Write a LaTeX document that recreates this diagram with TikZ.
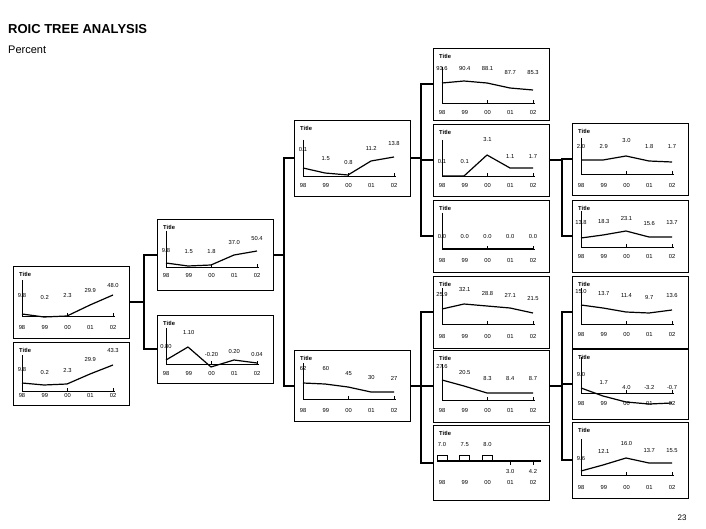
\documentclass[tikz,border=0pt]{standalone}
\usepackage{fontspec}
\setmainfont{Liberation Sans}
\begin{document}
\begin{tikzpicture}[x=1pt,y=-1pt,
  box/.style={draw,line width=0.8pt,minimum width=116pt,anchor=north west,inner sep=0pt},
  tt/.style={font=\fontsize{5.8}{6}\selectfont\bfseries,anchor=west,inner sep=0pt},
  lab/.style={font=\fontsize{5.8}{6}\selectfont,inner sep=0pt},
  axis/.style={line width=0.6pt},
  dline/.style={line width=1.2pt,line join=round},
  conn/.style={line width=2pt}]
\useasboundingbox (0,0) rectangle (706,529);
\newcommand\chart[8]{%
  \node[box,minimum height=#4pt] (#1) at (#2,#3) {};
  \begin{scope}[shift={(#2,#3)}]
    \node[tt] at (6,8) {Title};
    \draw[axis] (9,#7) -- (102,#7);
    \draw[axis] (9,#7-36) -- (9,#7);
    \draw[axis] (54,#7) -- (54,#7-3) (100,#7) -- (100,#7-3);
    \foreach \l/\yy [count=\i] in {#5} \node[lab] at ({9+22.75*(\i-1)},\yy) {\l};
    \foreach \l [count=\i] in {98,99,00,01,02} \node[lab] at ({9+22.75*(\i-1)},#8) {\l};
    \draw[dline] plot coordinates {#6};
  \end{scope}}
\node[anchor=west,inner sep=0pt,font=\fontsize{13}{14}\selectfont\bfseries] (ttl) at (8,29) {ROIC TREE ANALYSIS};
\node[anchor=west,inner sep=0pt,font=\fontsize{11}{12}\selectfont] (pct) at (8,50) {Percent};
\node[inner sep=0pt,font=\fontsize{8}{9}\selectfont] (pg) at (682,518) {23};
% level 1
\chart{L1}{13}{266}{72}{9.8/30,0.2/32,2.3/30,29.9/25,48.0/20}{(9,48) (31,51) (54,50) (77,39) (100,29)}{50}{62}
\chart{L2}{13}{342}{63}{9.8/28,0.2/31,2.3/29,29.9/18,43.3/9}{(9,41) (31,43) (54,42) (77,32) (100,23)}{49}{54}
% level 2
\chart{M1}{157}{219}{71}{9.8/32,1.5/33,1.8/33,37.0/24,50.4/20}{(9,44) (31,47) (54,46) (77,36) (100,32)}{48}{57}
\chart{M2}{157}{315}{68}{0.80/32,1.10/18,-0.20/40,0.20/37,0.04/40}{(9,45) (31,32) (54,52) (77,45) (100,48)}{49}{59}
% level 3
\chart{N1}{294}{120}{76}{0.1/30,1.5/39,0.8/43,11.2/28,13.8/24}{(9,48) (31,53) (54,55) (77,41) (100,37)}{56}{66}
\chart{N2}{294}{350}{71}{62/19,60/19,45/24,30/28,27/28}{(9,33) (31,34) (54,37) (77,42) (100,42)}{49}{61}
% level 4
\chart{T1}{433}{48}{72}{93.6/21,90.4/21,88.1/21,87.7/25,85.3/25}{(9,35) (31,33) (54,35) (77,40) (100,42)}{55}{65}
\chart{T2}{433}{124}{72}{0.1/38,0.1/38,3.1/16,1.1/33,1.7/33}{(9,52) (31,52) (54,31) (77,44) (100,44)}{52}{62}
\chart{T3}{433}{200}{72}{0.0/37,0.0/37,0.0/37,0.0/37,0.0/37}{(9,49) (100,49)}{49}{61}
\chart{T4}{433}{276}{72}{25.9/19,32.1/14,28.8/18,27.1/19,21.5/23}{(9,33) (31,28) (54,30) (77,32) (100,37)}{48}{61}
\chart{T5}{433}{350}{72}{27.6/17,20.5/23,8.3/29,8.4/29,8.7/29}{(9,30) (31,36) (54,43) (77,43) (100,43)}{50}{61}
\node[box,minimum height=75pt] (T6) at (433,425) {};
\begin{scope}[shift={(433,425)}]
  \node[tt] at (6,8) {Title};
  \foreach \l/\yy [count=\i] in {7.0/20,7.5/20,8.0/20,3.0/46,4.2/46} \node[lab] at ({9+22.75*(\i-1)},\yy) {\l};
  \foreach \l [count=\i] in {98,99,00,01,02} \node[lab] at ({9+22.75*(\i-1)},57) {\l};
  \draw[dline] (5,36) -- (108,36);
  \foreach \i in {0,1,2} \draw[axis] ({4+22.75*\i},36) rectangle ++(10,-6);
  \draw[axis] (77,36) -- (77,40) (100,36) -- (100,40);
\end{scope}
% level 5
\chart{R1}{572}{123}{72}{2.0/24,2.9/24,3.0/18,1.8/24,1.7/24}{(9,37) (31,37) (54,33) (77,38) (100,39)}{51}{63}
\chart{R2}{572}{200}{72}{13.8/23,18.3/22,23.1/19,15.6/24,13.7/23}{(9,38) (31,35) (54,31) (77,37) (100,37)}{47}{57}
\chart{R3}{572}{276}{72}{15.0/16,13.7/18,11.4/20,9.7/22,13.6/20}{(9,29) (31,32) (54,36) (77,37) (100,34)}{48}{59}
\chart{R4}{572}{349}{70}{9.0/26,1.7/34,4.0/39,-3.2/39,-0.7/39}{(9,39) (31,47) (54,53) (77,55) (100,54)}{44}{55}
\chart{R5}{572}{422}{76}{9.6/36,12.1/29,16.0/22,13.7/29,15.5/29}{(9,49) (31,43) (54,36) (77,41) (100,41)}{53}{65}
% connectors
\draw[conn] (L1.east) -- ++(14,0) coordinate (j1);
\draw[conn] (M1.west) -| (j1) |- (M2.west);
\draw[conn] (M1.east) -- ++(10,0) coordinate (j2);
\draw[conn] (N1.west) -| (j2) |- (N2.west);
\draw[conn] (N1.east) -- ++(10,0) coordinate (j3);
\draw[conn] (T1.west) -| (j3) |- (T3.west);
\draw[conn] (j3) |- (T2.west);
\draw[conn] (N2.east) -- ++(10,0) coordinate (j4);
\draw[conn] (T4.west) -| (j4) |- (T6.west);
\draw[conn] (j4) |- (T5.west);
\draw[conn] (T2.east) -- ++(12,0) coordinate (j5);
\draw[conn] (R1.west) -| (j5) |- (R2.west);
\draw[conn] (T5.east) -- ++(12,0) coordinate (j6);
\draw[conn] (R3.west) -| (j6) |- (R5.west);
\draw[conn] (j6) |- (R4.west);
\end{tikzpicture}
\end{document}
